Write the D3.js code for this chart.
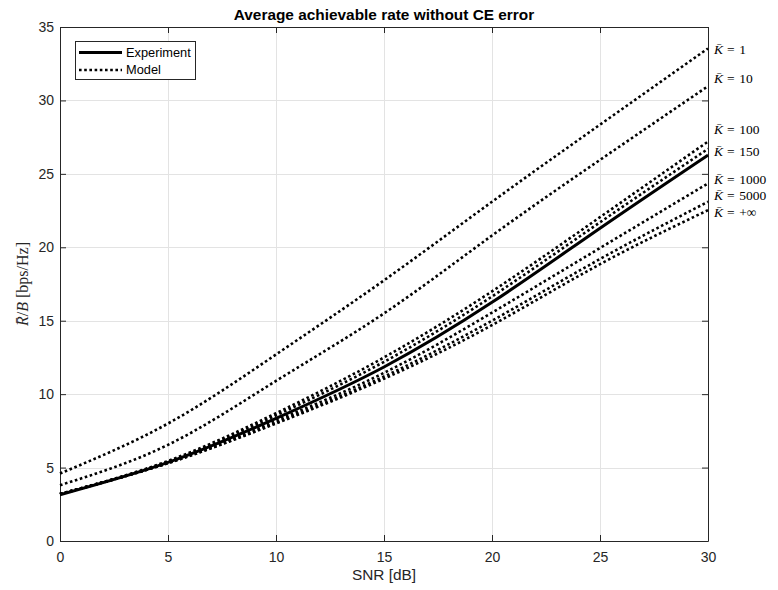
<!DOCTYPE html>
<html>
<head>
<meta charset="utf-8">
<script src="https://cdn.jsdelivr.net/npm/d3@7"></script>
<style>
  html, body { margin: 0; padding: 0; background: #fff; }
  svg { display: block; }
</style>
</head>
<body>
<svg id="chart" width="778" height="590"></svg>
<script>
// ---------- data ----------
const snr = [0, 5, 10, 15, 20, 25, 30];
const experiment = [3.15, 5.35, 8.35, 11.85, 16.25, 21.3, 26.28];
const modelK1 = [4.6, 8.0, 12.7, 17.75, 23.1, 28.35, 33.54];
const modelK10 = [3.8, 6.55, 10.9, 15.5, 20.8, 25.95, 30.97];
const modelK100 = [3.2, 5.45, 8.7, 12.5, 17.0, 22.05, 27.2];
const modelK150 = [3.2, 5.4, 8.55, 12.2, 16.65, 21.7, 26.7];
const modelK1000 = [3.2, 5.35, 8.2, 11.45, 15.55, 19.95, 24.35];
const modelK5000 = [3.2, 5.3, 8.05, 11.2, 15.0, 19.2, 23.1];
const modelKinf = [3.2, 5.3, 8.0, 11.05, 14.7, 18.85, 22.53];
const modelNames = ["1", "10", "100", "150", "1000", "5000", "+\u221E"];
const labelValues = [33.5, 31.5, 28.05, 26.55, 24.65, 23.55, 22.4];
const xTicks = [0, 5, 10, 15, 20, 25, 30];
const yTicks = [0, 5, 10, 15, 20, 25, 30, 35];
const titleText = "Average achievable rate without CE error";
const xLabelText = "SNR [dB]";
const legendNames = ["Experiment", "Model"];

const models = [modelK1, modelK10, modelK100, modelK150, modelK1000, modelK5000, modelKinf];

// ---------- layout ----------
const L = 60, R = 708, T = 27, B = 541;
const axisColor = "#262626";
const svg = d3.select("#chart");

const x = d3.scaleLinear().domain([0, 30]).range([L, R]);
const y = d3.scaleLinear().domain([0, 35]).range([B, T]);

// grid
const grid = svg.append("g");
grid.selectAll("line.gx").data(xTicks.slice(1, -1)).join("line")
  .attr("x1", d => Math.round(x(d)) + 0.5).attr("x2", d => Math.round(x(d)) + 0.5)
  .attr("y1", T).attr("y2", B)
  .attr("stroke", "#e3e3e3").attr("stroke-width", 1);
grid.selectAll("line.gy").data(yTicks.slice(1, -1)).join("line")
  .attr("y1", d => Math.round(y(d)) + 0.5).attr("y2", d => Math.round(y(d)) + 0.5)
  .attr("x1", L).attr("x2", R)
  .attr("stroke", "#e3e3e3").attr("stroke-width", 1);

// axes
const fontTick = "14px 'Liberation Sans', Arial, sans-serif";
function styleAxis(g) {
  g.selectAll("path.domain").attr("stroke", axisColor);
  g.selectAll(".tick line").attr("stroke", axisColor);
  g.selectAll(".tick text").attr("fill", axisColor)
    .style("font", fontTick);
}
svg.append("g").attr("transform", `translate(0,${B})`)
  .call(d3.axisBottom(x).tickValues(xTicks).tickSizeInner(-6).tickSizeOuter(0).tickPadding(11))
  .call(styleAxis);
svg.append("g").attr("transform", `translate(${L},0)`)
  .call(d3.axisLeft(y).tickValues(yTicks).tickSizeInner(-6).tickSizeOuter(0).tickPadding(6))
  .call(styleAxis);
svg.append("g").attr("transform", `translate(0,${T})`)
  .call(d3.axisTop(x).tickValues(xTicks).tickSizeInner(-6).tickSizeOuter(0).tickFormat(""))
  .call(styleAxis);
svg.append("g").attr("transform", `translate(${R},0)`)
  .call(d3.axisRight(y).tickValues(yTicks).tickSizeInner(-6).tickSizeOuter(0).tickFormat(""))
  .call(styleAxis);

// lines
const line = d3.line().x((d, i) => x(snr[i])).y(d => y(d)).curve(d3.curveNatural);
svg.append("g").selectAll("path.model").data(models).join("path")
  .attr("d", d => line(d))
  .attr("fill", "none").attr("stroke", "#000")
  .attr("stroke-width", 2.6).attr("stroke-dasharray", "2.6 2.6");
svg.append("path").attr("d", line(experiment))
  .attr("fill", "none").attr("stroke", "#000").attr("stroke-width", 3);

// curve labels
const lab = svg.append("g").selectAll("text").data(modelNames).join("text")
  .attr("x", 714).attr("y", (d, i) => y(labelValues[i]))
  .attr("dy", "0.35em")
  .style("font", "13.5px 'Liberation Serif', 'Times New Roman', serif")
  .attr("fill", "#000");
lab.append("tspan").attr("font-style", "italic").text("K\u0304");
lab.append("tspan").attr("dx", 4).text("=");
lab.append("tspan").attr("dx", 4.5).text(d => d);

// title
svg.append("text").attr("x", (L + R) / 2).attr("y", 20)
  .attr("text-anchor", "middle")
  .style("font", "bold 15.4px 'Liberation Sans', Arial, sans-serif")
  .attr("fill", "#000").text(titleText);

// x label
svg.append("text").attr("x", (L + R) / 2).attr("y", 580)
  .attr("text-anchor", "middle")
  .style("font", "15.4px 'Liberation Sans', Arial, sans-serif")
  .attr("fill", axisColor).text(xLabelText);

// y label
const yl = svg.append("text")
  .attr("transform", `translate(28,${(T + B) / 2}) rotate(-90)`)
  .attr("text-anchor", "middle")
  .style("font", "16px 'Liberation Serif', 'Times New Roman', serif")
  .attr("fill", axisColor);
yl.append("tspan").attr("font-style", "italic").text("R\u0304");
yl.append("tspan").text("/");
yl.append("tspan").attr("font-style", "italic").text("B");
yl.append("tspan").text(" [bps/Hz]");

// legend
const lg = svg.append("g");
lg.append("rect").attr("x", 75.5).attr("y", 41.5).attr("width", 120).attr("height", 38)
  .attr("fill", "#fff").attr("stroke", axisColor).attr("stroke-width", 1);
const legY = [52.5, 70];
lg.selectAll("line").data(legendNames).join("line")
  .attr("x1", 79).attr("x2", 122)
  .attr("y1", (d, i) => legY[i]).attr("y2", (d, i) => legY[i])
  .attr("stroke", "#000")
  .attr("stroke-width", (d, i) => i === 0 ? 3 : 2.6)
  .attr("stroke-dasharray", (d, i) => i === 0 ? null : "2.6 2.6");
lg.selectAll("text").data(legendNames).join("text")
  .attr("x", 126).attr("y", (d, i) => legY[i]).attr("dy", "0.35em")
  .style("font", "12.8px 'Liberation Sans', Arial, sans-serif")
  .attr("fill", "#000").text(d => d);
</script>
</body>
</html>
